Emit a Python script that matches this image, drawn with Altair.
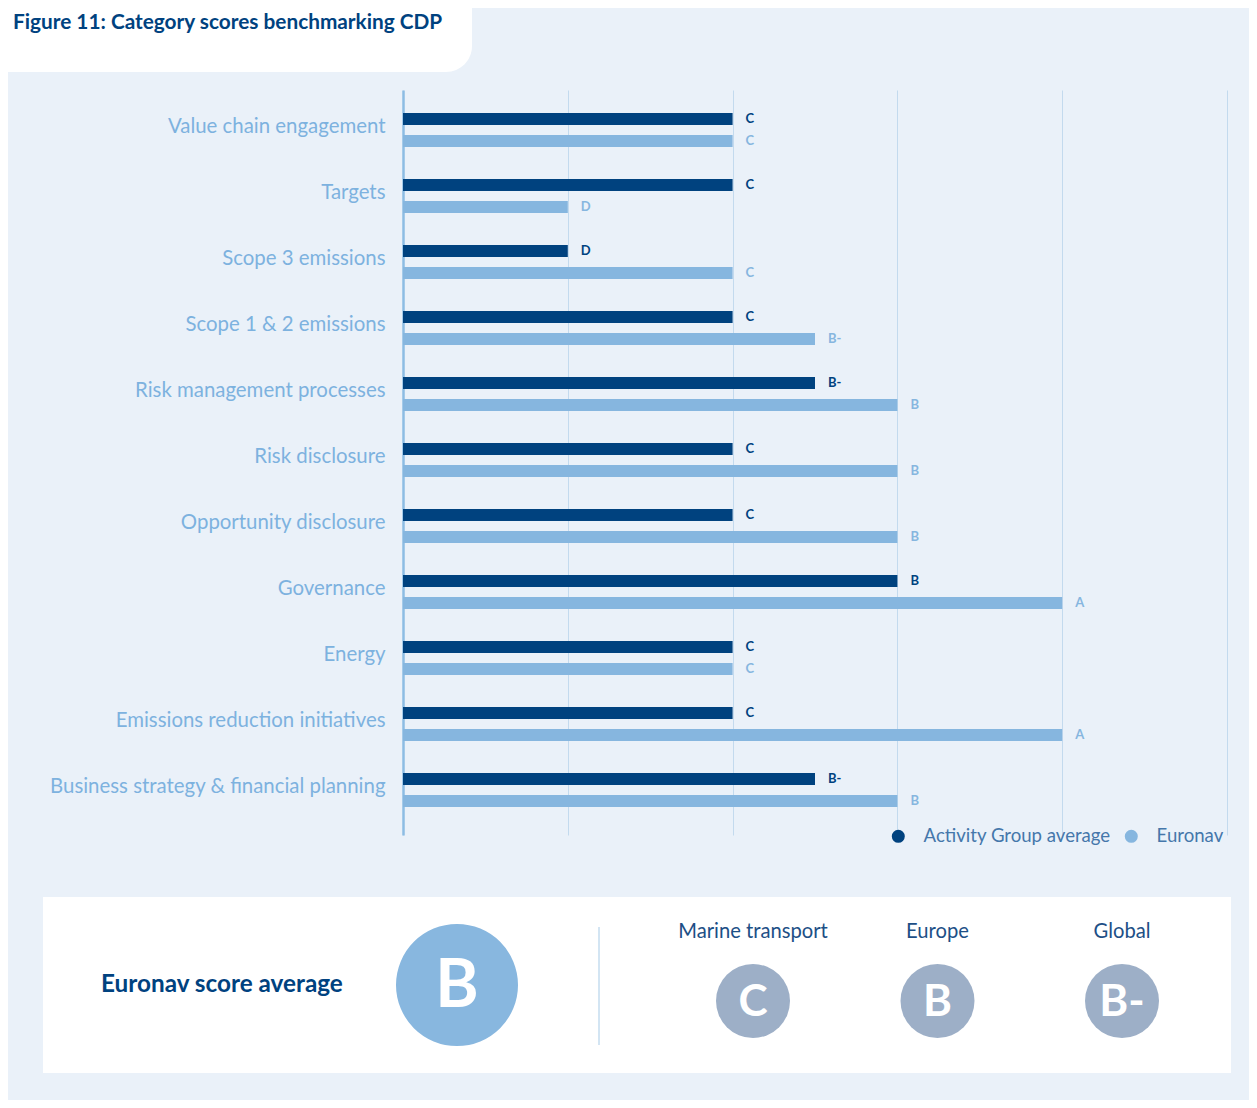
import altair as alt
import pandas as pd

# ---------------- data ----------------
title_text = "Figure 11: Category scores benchmarking CDP"
categories = [
    "Value chain engagement",
    "Targets",
    "Scope 3 emissions",
    "Scope 1 & 2 emissions",
    "Risk management processes",
    "Risk disclosure",
    "Opportunity disclosure",
    "Governance",
    "Energy",
    "Emissions reduction initiatives",
    "Business strategy & financial planning",
]
activity_grades = ["C", "C", "D", "C", "B-", "C", "C", "B", "C", "C", "B-"]
euronav_grades = ["C", "D", "C", "B-", "B", "B", "B", "A", "C", "A", "B"]
series_names = ["Activity Group average", "Euronav"]
grade_letters = ["D", "C", "B-", "B", "A"]
grade_positions = [1, 2, 2.5, 3, 4]
grid_values = [0, 1, 2, 3, 4, 5]

avg_label = "Euronav score average"
euronav_average = "B"
bench_names = ["Marine transport", "Europe", "Global"]
bench_grades = ["C", "B", "B-"]

# ---------------- styling ----------------
NAVY = "#00427F"
LIGHT = "#86B6DF"
BG = "#EAF1F9"
LABEL_BLUE = "#7DB2DF"
GRID = "#C3DAEE"
GREY = "#9DAFC7"
FONT = "Lato"

gmap = dict(zip(grade_letters, grade_positions))
rows = []
for c, a, e in zip(categories, activity_grades, euronav_grades):
    rows.append({"category": c, "series": series_names[0], "grade": a, "value": gmap[a]})
    rows.append({"category": c, "series": series_names[1], "grade": e, "value": gmap[e]})
df = pd.DataFrame(rows)

bench_df = pd.DataFrame({"name": bench_names, "grade": bench_grades})
one = pd.DataFrame({"k": [0]})

color_scale = alt.Scale(domain=series_names, range=[NAVY, LIGHT])

base = alt.Chart(df).encode(
    y=alt.Y(
        "category:N",
        sort=categories,
        scale=alt.Scale(paddingInner=0, paddingOuter=0.144, align=0.37),
        axis=alt.Axis(
            title=None,
            ticks=False,
            grid=False,
            domain=True,
            domainColor="#8DBCE3",
            domainWidth=2.5,
            labelFont=FONT,
            labelFontSize=20.4,
            labelColor=LABEL_BLUE,
            labelPadding=18,
            labelLimit=500,
            labelOffset=-3,
        ),
    ),
    yOffset=alt.YOffset(
        "series:N",
        sort=series_names,
        scale=alt.Scale(paddingInner=0.4545, paddingOuter=0.727),
    ),
    x=alt.X(
        "value:Q",
        scale=alt.Scale(domain=[0, 5], nice=False, zero=True),
        axis=alt.Axis(
            title=None,
            values=grid_values,
            labels=False,
            ticks=False,
            domain=False,
            grid=True,
            gridColor=GRID,
            gridWidth=1,
        ),
    ),
)

bars = base.mark_bar().encode(
    color=alt.Color(
        "series:N",
        scale=color_scale,
        sort=series_names,
        legend=alt.Legend(
            orient="none",
            legendX=486,
            legendY=737,
            direction="horizontal",
            title=None,
            symbolType="circle",
            symbolSize=170,
            symbolStrokeWidth=0,
            symbolOpacity=1,
            labelFont=FONT,
            labelFontSize=18.6,
            labelColor="#4577AB",
            labelOffset=16,
            labelLimit=400,
            columnPadding=11,
        ),
    )
)

bar_text = base.mark_text(
    align="left", baseline="middle", dx=13, font=FONT, fontWeight="bold", fontSize=13
).encode(
    text="grade:N",
    color=alt.Color("series:N", scale=color_scale, legend=None),
)

bars_group = alt.layer(bars, bar_text)

# ---------------- decoration (panels, title) ----------------
tab = alt.Chart(one).mark_rect(color="white", cornerRadiusBottomRight=26).encode(
    x=alt.value(-395), x2=alt.value(69), y=alt.value(-82), y2=alt.value(-18)
)
title = alt.Chart(one).mark_text(
    align="left", baseline="middle", font=FONT, fontWeight="bold", fontSize=20.8, color=NAVY
).encode(x=alt.value(-390), y=alt.value(-67), text=alt.value(title_text))

panel = alt.Chart(one).mark_rect(color="white").encode(
    x=alt.value(-360), x2=alt.value(828), y=alt.value(807), y2=alt.value(983)
)
divider = alt.Chart(one).mark_rule(color="#C5DCEF", strokeWidth=1.5).encode(
    x=alt.value(196), y=alt.value(837), y2=alt.value(955)
)
avg_text = alt.Chart(one).mark_text(
    align="left", baseline="middle", font=FONT, fontWeight="bold", fontSize=24.3, color=NAVY
).encode(x=alt.value(-302), y=alt.value(895), text=alt.value(avg_label))
avg_circle = alt.Chart(one).mark_circle(size=14884, color="#88B7DF", opacity=1).encode(
    x=alt.value(54), y=alt.value(895)
)
avg_letter = alt.Chart(one).mark_text(
    align="center", baseline="middle", font=FONT, fontWeight="bold", fontSize=66, color="white"
).encode(x=alt.value(54), y=alt.value(897), text=alt.value(euronav_average))

bx = alt.X(
    "name:N",
    sort=bench_names,
    scale=alt.Scale(domain=bench_names, range=[350, 719], padding=0),
    axis=None,
)
bench_base = alt.Chart(bench_df).encode(x=bx)
bench_circles = bench_base.mark_circle(size=5476, color=GREY, opacity=1).encode(y=alt.value(911))
bench_names_txt = bench_base.mark_text(
    align="center", baseline="middle", font=FONT, fontSize=20.2, color="#1D4F86"
).encode(y=alt.value(842), text="name:N")
bench_letters = bench_base.mark_text(
    align="center", baseline="middle", font=FONT, fontWeight="bold", fontSize=44, color="white"
).encode(y=alt.value(913), text="grade:N")
bench_group = alt.layer(bench_circles, bench_names_txt, bench_letters)

chart = (
    alt.layer(
        tab, title, panel, divider, bars_group, avg_circle, avg_letter, avg_text, bench_group
    )
    .resolve_scale(x="independent")
    .properties(
        width=824,
        height=745,
        autosize=alt.AutoSizeParams(type="none"),
        padding={"left": 395, "top": 82, "right": 22, "bottom": 265},
        background=BG,
    )
    .configure_view(stroke=None)
)

chart.save("out.html", embed_options={"renderer": "svg", "actions": False})
